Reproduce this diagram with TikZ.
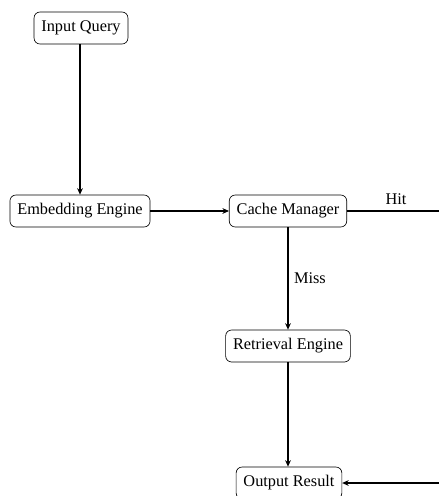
\documentclass[tikz,border=0pt]{standalone}
\usepackage{fontspec}
\setmainfont{Liberation Serif}
\usetikzlibrary{arrows.meta}
\begin{document}
\begin{tikzpicture}[x=0.6135pt,y=-0.6135pt,
  box/.style={draw,rounded corners=3.6pt,thin,inner xsep=4.5pt,minimum height=19.6pt,font=\fontsize{10}{12}\selectfont},
  flow/.style={-{Stealth[length=4pt,width=3.5pt]},line width=0.8pt},
  lab/.style={font=\fontsize{10}{12}\selectfont}]
\useasboundingbox (0,0) rectangle (439,496);
\node[box] (input) at (81,28) {Input Query};
\node[box] (embed) at (80,211) {Embedding Engine};
\node[box] (cache) at (288,211) {Cache Manager};
\node[box] (retr) at (288,346) {Retrieval Engine};
\node[box] (out) at (289,483) {Output Result};
\coordinate (corner) at (445,211);
\draw[flow] (input.south -| embed.north) -- (embed.north);
\draw[flow] (embed) -- (cache);
\draw[flow] (cache.south) -- node[lab,right]{Miss} (retr.north);
\draw[flow] (retr.south) -- (retr.south |- out.north);
\draw[flow] (cache.east) -- node[lab,above]{Hit} (corner) |- (out.east);
\end{tikzpicture}
\end{document}
